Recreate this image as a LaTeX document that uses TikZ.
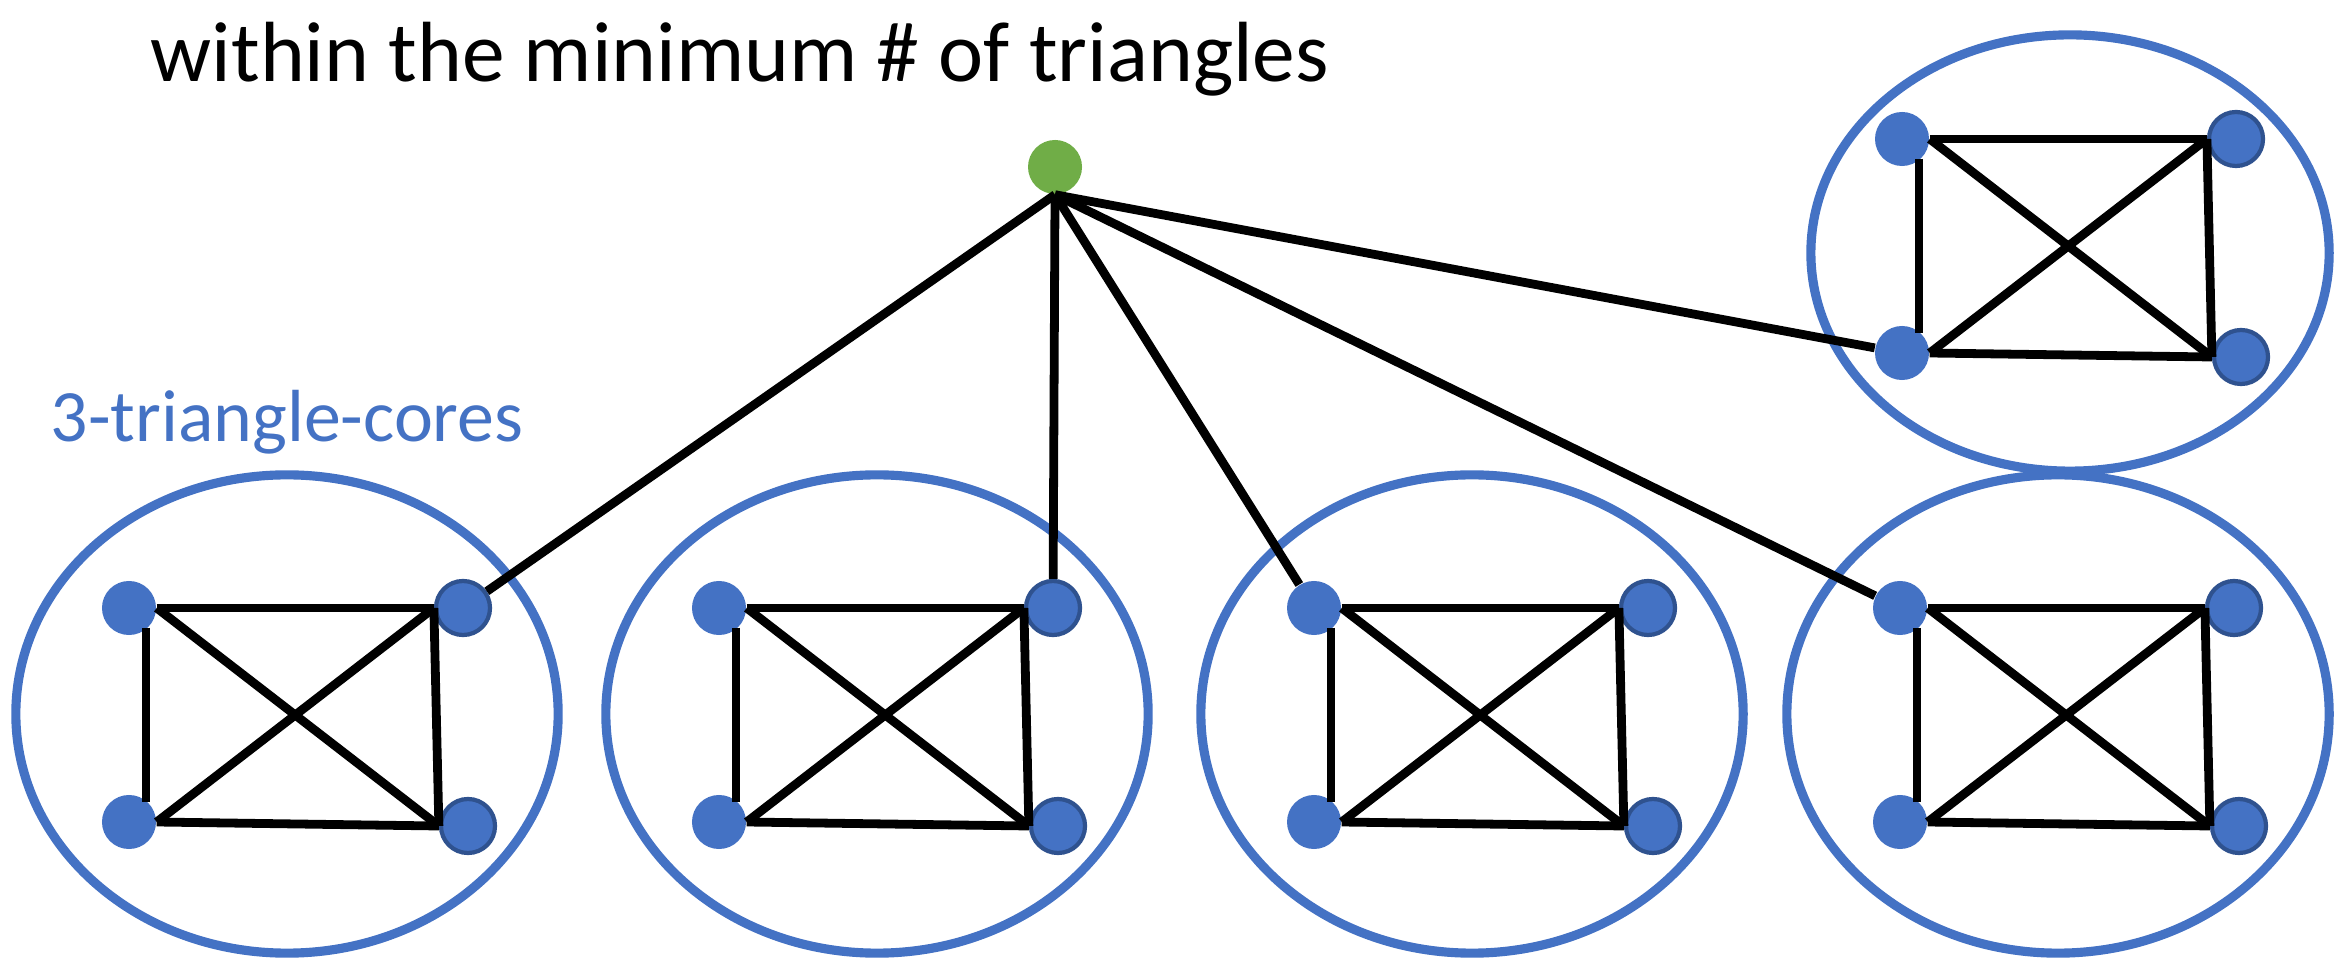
\documentclass[tikz,border=0pt]{standalone}
\usepackage{fontspec}
\setmainfont{Carlito}
\definecolor{cblue}{HTML}{4472C4}
\definecolor{cdark}{HTML}{2F528F}
\definecolor{cgreen}{HTML}{70AD47}
\newcommand\kcluster[3]{%
  \node[vtx]  (#1a) at (#2-158,#3-106) {};
  \node[vtxb] (#1b) at (#2+176,#3-106) {};
  \node[vtx]  (#1c) at (#2-158,#3+108) {};
  \node[vtxb] (#1d) at (#2+181,#3+112) {};
  \draw[edge] (#1a.east) -- (#1b.west);
  \draw[edge] ([shift={(17,20)}]#1a.center) -- ([shift={(17,-20)}]#1c.center);
  \draw[edge] (#1b.west) -- (#1d.west);
  \draw[edge] (#1c.east) -- (#1d.west);
  \draw[edge] (#1a.east) -- (#1d.west);
  \draw[edge] (#1c.east) -- (#1b.west);
}
\begin{document}
\begin{tikzpicture}[x=0.01cm,y=-0.01cm,
  vtx/.style={circle,fill=cblue,minimum size=0.54cm,inner sep=0pt},
  vtxb/.style={vtx,draw=cdark,line width=1.2pt},
  edge/.style={line width=2.5pt,black},
  ring/.style={draw=cblue,line width=2.6pt}]
\useasboundingbox (0,0) rectangle (2343,980);
\node[anchor=base west,inner sep=0pt,font=\fontsize{24.3}{28}\selectfont] (title) at (150,82) {within the minimum \# of triangles};
\node[anchor=base west,inner sep=0pt,text=cblue,font=\fontsize{21}{25}\selectfont] (lbl) at (50,442) {3-triangle-cores};
\draw[ring] (287,714) ellipse [x radius=2.71cm, y radius=2.39cm];
\draw[ring] (877,714) ellipse [x radius=2.71cm, y radius=2.39cm];
\draw[ring] (1472,714) ellipse [x radius=2.71cm, y radius=2.39cm];
\draw[ring] (2058,714) ellipse [x radius=2.71cm, y radius=2.39cm];
\draw[ring] (2070,253) ellipse [x radius=2.59cm, y radius=2.18cm];
\kcluster{p}{287}{714}
\kcluster{q}{877}{714}
\kcluster{r}{1472}{714}
\kcluster{s}{2058}{714}
\kcluster{t}{2060}{245}
\node[vtx,fill=cgreen] (g) at (1055,167) {};
\draw[edge] (g.south) -- (pb);
\draw[edge] (g.south) -- (qb);
\draw[edge] (g.south) -- (ra);
\draw[edge] (g.south) -- (sa);
\draw[edge] (g.south) -- (tc);
\end{tikzpicture}
\end{document}
